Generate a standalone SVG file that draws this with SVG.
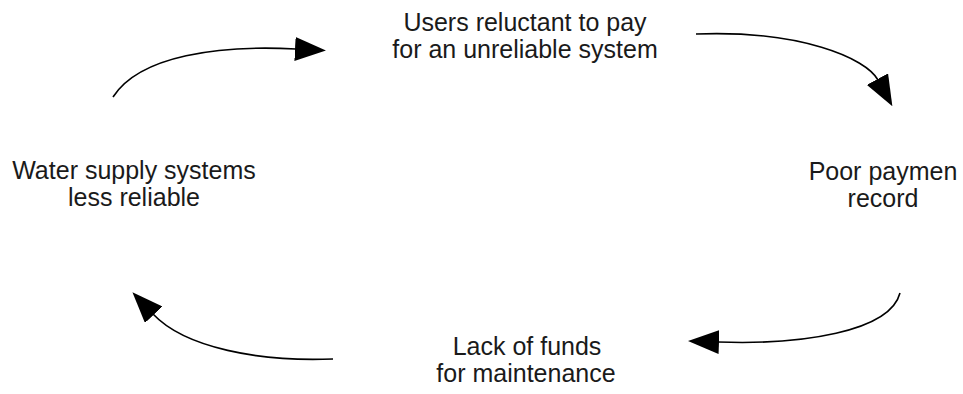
<svg xmlns="http://www.w3.org/2000/svg" width="963" height="394" viewBox="0 0 963 394">
  <style>
    .lbl { font-family: "Liberation Sans", Arial, sans-serif; font-size: 25px; fill: #1a1a1a; text-anchor: middle; }
    .arc { fill: none; stroke: #000; stroke-width: 1.6; }
  </style>
  <defs>
    <marker id="ah" viewBox="0 0 31 24" markerWidth="31" markerHeight="24" refX="1" refY="12" orient="auto" markerUnits="userSpaceOnUse">
      <path d="M0,0 L31,12 L0,24 z" fill="#000"/>
    </marker>
  </defs>
  <rect width="963" height="394" fill="#fff"/>
  <g id="connectors">
    <path class="arc" d="M113,97 C140,55 220,45 296,49" marker-end="url(#ah)"/>
    <path class="arc" d="M696,34 C800,30 866,58 878,80" marker-end="url(#ah)"/>
    <path class="arc" d="M900,293 C890,332 800,345 718,342" marker-end="url(#ah)"/>
    <path class="arc" d="M333,359 C260,362 185,348 153,314" marker-end="url(#ah)"/>
  </g>
  <g id="users">
    <text class="lbl" x="525" y="31">Users reluctant to pay</text>
    <text class="lbl" x="525" y="58">for an unreliable system</text>
  </g>
  <g id="payment">
    <text class="lbl" x="883" y="180">Poor paymen</text>
    <text class="lbl" x="883" y="207">record</text>
  </g>
  <g id="funds">
    <text class="lbl" x="527" y="355">Lack of funds</text>
    <text class="lbl" x="526" y="382">for maintenance</text>
  </g>
  <g id="water">
    <text class="lbl" x="134" y="179">Water supply systems</text>
    <text class="lbl" x="134" y="206">less reliable</text>
  </g>
</svg>
